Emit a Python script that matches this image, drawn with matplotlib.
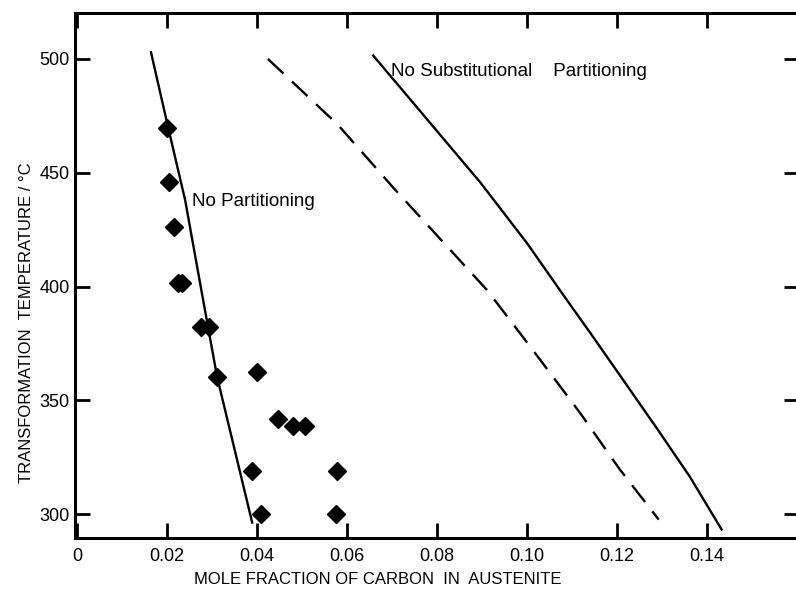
import matplotlib
matplotlib.use("Agg")
import matplotlib.pyplot as plt

plt.rcParams['font.family'] = ['Liberation Sans', 'DejaVu Sans']

# Measured data (diamonds)
pts_x = [0.0200, 0.0204, 0.0216, 0.0224, 0.0233, 0.0275, 0.0294, 0.0311, 0.0400,
         0.0389, 0.0409, 0.0447, 0.0480, 0.0507, 0.0578, 0.0576]
pts_t = [469.5, 445.8, 426.1, 401.5, 401.5, 382.2, 382.2, 360.3, 362.5,
         319.1, 300.2, 341.9, 338.8, 338.8, 319.1, 300.2]

# No Partitioning curve
np_x = [0.0164, 0.0202, 0.0240, 0.0280, 0.0311, 0.0389]
np_t = [502.9, 470.0, 437.9, 394.0, 360.3, 296.3]

# Dashed curve
d_x = [0.0424, 0.0580, 0.0702, 0.0911, 0.1013, 0.1118, 0.1207, 0.1293]
d_t = [500.0, 471.0, 443.6, 398.5, 372.1, 344.5, 319.5, 297.6]

# No Substitutional Partitioning curve
s_x = [0.0658, 0.0718, 0.0896, 0.1000, 0.1084, 0.1147, 0.1291, 0.1362, 0.1433]
s_t = [501.5, 487.5, 445.8, 419.1, 395.4, 377.9, 337.1, 316.5, 293.2]

xticks = [0, 0.02, 0.04, 0.06, 0.08, 0.10, 0.12, 0.14]
xticklabels = ['0', '0.02', '0.04', '0.06', '0.08', '0.10', '0.12', '0.14']
yticks = [300, 350, 400, 450, 500]

fig = plt.figure(figsize=(7.96, 5.92), dpi=100)
W, H = 796, 592
left, right, top, bottom = 75, 799, 12.5, 538
ax = fig.add_axes([left / W, 1 - bottom / H, (right - left) / W, (bottom - top) / H])

ax.plot(np_x, np_t, color='black', lw=1.7)
ax.plot(d_x, d_t, color='black', lw=1.7, dashes=(9, 5))
ax.plot(s_x, s_t, color='black', lw=1.7)
ax.plot(pts_x, pts_t, linestyle='none', marker='D', markersize=9.5, color='black')

ax.set_xlim(-0.0005, 0.1605)
ax.set_ylim(289.5, 520.4)

ax.set_xticks(xticks)
ax.set_xticklabels(xticklabels)
ax.set_yticks(yticks)

for s in ax.spines.values():
    s.set_linewidth(2.2)

ax.tick_params(axis='both', which='both', direction='in', length=11, width=2,
               labelsize=13, top=True, right=True, pad=7)
ax.tick_params(axis='y', pad=4)

ax.text(0.0255, 437.5, 'No Partitioning', fontsize=13.5, ha='left', va='center')
ax.text(0.0697, 494.5, 'No Substitutional    Partitioning', fontsize=13.5, ha='left', va='center')

fig.text(378 / W, 1 - 579 / H, 'MOLE FRACTION OF CARBON  IN  AUSTENITE',
         fontsize=12, ha='center', va='center')
fig.text(27 / W, 1 - 323 / H, 'TRANSFORMATION  TEMPERATURE / °C',
         fontsize=12, ha='center', va='center', rotation=90)

fig.savefig('out.png', dpi=100)
